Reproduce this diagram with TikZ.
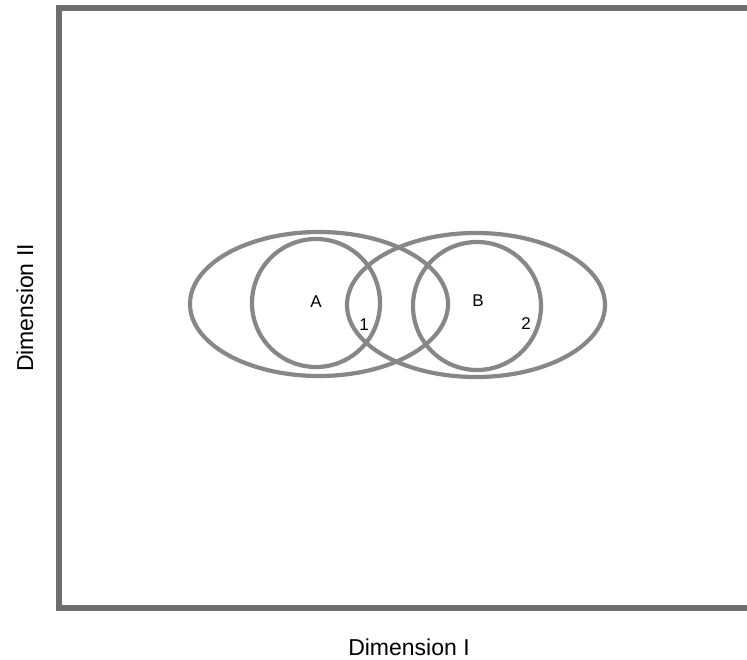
\documentclass[tikz,border=0pt]{standalone}
\usepackage{fontspec}
\setmainfont{Liberation Sans}
\usepackage{tikz}
\usetikzlibrary{positioning}
\definecolor{mygray}{RGB}{135,135,135}
\definecolor{myframe}{RGB}{110,110,110}
\tikzset{
  frameline/.style={draw=myframe, line width=6pt, line cap=rect},
  ring/.style={draw=mygray, line width=4.2pt},
  setlabel/.style={font=\fontsize{17}{19}\selectfont, inner sep=0pt},
  axislabel/.style={font=\fontsize{23}{26}\selectfont, inner sep=0pt}
}

\begin{document}
\begin{tikzpicture}[x=1pt, y=-1pt]
  \useasboundingbox (0,0) rectangle (747,660);
  % open frame (left, top, bottom)
  \draw[frameline] (747,8) -- (59,8) -- (59,608) -- (747,608);

  % ellipses and circles
  \draw[ring] (319,304) ellipse [x radius=129pt, y radius=72pt];
  \draw[ring] (476,305) ellipse [x radius=129pt, y radius=72pt];
  \draw[ring] (316,303) circle [radius=64pt];
  \draw[ring] (477,306) circle [radius=64pt];

  \node[setlabel] (labA) at (316,302) {A};
  \node[setlabel] (labB) at (478,301) {B};
  \node[setlabel] (lab1) at (364,325) {1};
  \node[setlabel] (lab2) at (526,324) {2};

  % axis names
  \node[axislabel, anchor=base] (dimI) at (409,655) {Dimension I};
  \node[axislabel, rotate=90, anchor=base] (dimII) at (33,308) {Dimension II};
\end{tikzpicture}
\end{document}
